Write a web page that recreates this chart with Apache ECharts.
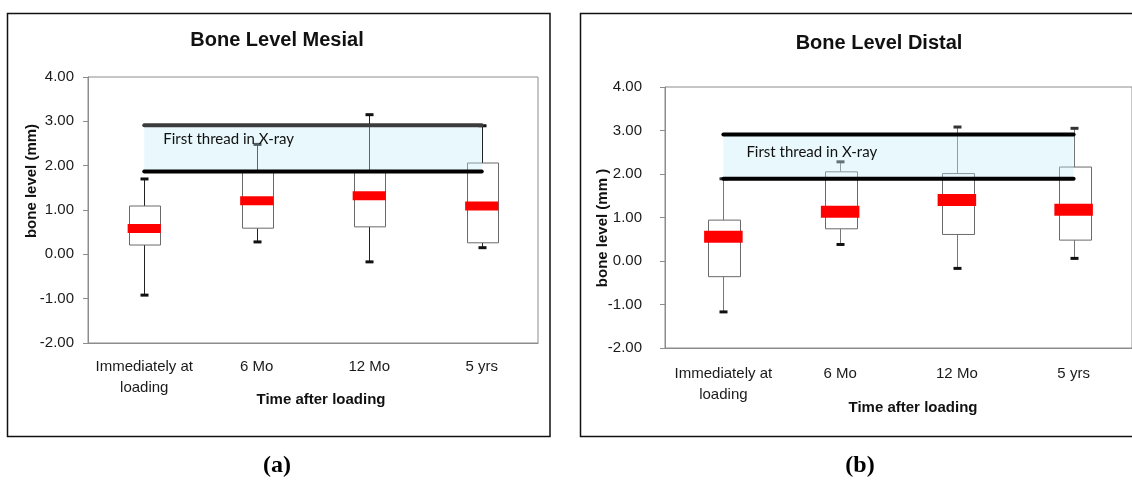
<!DOCTYPE html>
<html>
<head>
<meta charset="utf-8">
<script src="https://cdn.jsdelivr.net/npm/echarts@6/dist/echarts.min.js"></script>
<style>html,body{margin:0;padding:0;background:#fff}#c{width:1132px;height:481px}</style>
</head>
<body>
<div id="c"></div>
<script>
// ---- data ----
const categories = ['Immediately at\nloading', '6 Mo', '12 Mo', '5 yrs'];
const yTicks = [-2, -1, 0, 1, 2, 3, 4];

const mesialMin    = [-0.92, 0.28, -0.17, 0.15];
const mesialQ1     = [0.21, 0.59, 0.62, 0.26];
const mesialMedian = [0.58, 1.21, 1.32, 1.09];
const mesialQ3     = [1.09, 1.87, 1.87, 2.06];
const mesialMax    = [1.70, 2.48, 3.15, 2.90];
const mesialBand   = [1.87, 2.91];

const distalMin    = [-1.17, 0.38, -0.17, 0.06];
const distalQ1     = [-0.36, 0.74, 0.61, 0.48];
const distalMedian = [0.56, 1.13, 1.40, 1.18];
const distalQ3     = [0.94, 2.05, 2.01, 2.16];
const distalMax    = [1.89, 2.28, 3.08, 3.05];
const distalBand   = [1.89, 2.91];

const bandFrom = 0, bandTo = 3;
const bandLabel = 'First thread in X-ray';

// ---- helpers ----
function boxData(mn, q1, md, q3, mx) {
  return categories.map((c, i) => [i, mn[i], q1[i], md[i], q3[i], mx[i]]);
}
function boxRender(st) {
  return function (params, api) {
    const i = api.value(0);
    const pMin = api.coord([i, api.value(1)]);
    const pQ1 = api.coord([i, api.value(2)]);
    const pQ3 = api.coord([i, api.value(4)]);
    const pMax = api.coord([i, api.value(5)]);
    const x = Math.round(pMin[0]) + 0.5;
    const bw = api.size([1, 0])[0] * st.boxRatio;
    return { type: 'group', children: [
      { type: 'line', shape: { x1: x, y1: pMin[1], x2: x, y2: pQ1[1] }, style: { stroke: st.whisker, lineWidth: 1 } },
      { type: 'line', shape: { x1: x, y1: pQ3[1], x2: x, y2: pMax[1] }, style: { stroke: st.whisker, lineWidth: 1 } },
      { type: 'rect', shape: { x: Math.round(x - bw / 2) + 0.5, y: pQ3[1], width: Math.round(bw), height: pQ1[1] - pQ3[1] }, style: { fill: '#fff', stroke: '#6a6a6a', lineWidth: 1 } },
      { type: 'rect', shape: { x: x - 4, y: pMin[1] - 1.5, width: 8, height: 3 }, style: { fill: '#111' } },
      { type: 'rect', shape: { x: x - 4, y: pMax[1] - 1.5, width: 8, height: 3 }, style: { fill: st.capTop } }
    ] };
  };
}
function medianRender(st) {
  return function (params, api) {
    const i = api.value(0);
    const p = api.coord([i, api.value(1)]);
    const w = api.size([1, 0])[0] * st.medRatio;
    return { type: 'rect', shape: { x: p[0] - w / 2, y: p[1] - st.medH / 2, width: w, height: st.medH }, style: { fill: '#ff0000' } };
  };
}
function bandRender(st) {
  return function (params, api) {
    const a = api.coord([api.value(0), api.value(3)]);
    const b = api.coord([api.value(1), api.value(2)]);
    return { type: 'group', children: [
      { type: 'rect', shape: { x: a[0], y: a[1], width: b[0] - a[0], height: b[1] - a[1] }, style: { fill: 'rgba(190,235,245,0.35)' } },
      { type: 'line', shape: { x1: a[0], y1: a[1], x2: b[0], y2: a[1] }, style: { stroke: st.topLine, lineWidth: 4, lineCap: 'round' } },
      { type: 'line', shape: { x1: a[0], y1: b[1], x2: b[0], y2: b[1] }, style: { stroke: '#000', lineWidth: 4, lineCap: 'round' } },
      { type: 'text', x: a[0] + st.textDx, y: a[1] + st.textDy, style: { text: bandLabel, fill: '#111', font: '15px Lato', verticalAlign: 'middle' } }
    ] };
  };
}

const chartStyles = [
  { grid: { left: 88, top: 77, width: 450, height: 266 }, boxRatio: 0.275, medRatio: 0.295, medH: 9, whisker: '#222', capTop: '#111', topLine: '#3c3c3c', textDx: 19, textDy: 14, labelMargin: 14, xMargin: 13, fs: 15 },
  { grid: { left: 665, top: 87, width: 472, height: 261 }, boxRatio: 0.27, medRatio: 0.33, medH: 12, whisker: '#777', capTop: '#333', topLine: '#000', textDx: 23, textDy: 18, labelMargin: 23, xMargin: 15, fs: 15 }
];
const sets = [
  { box: boxData(mesialMin, mesialQ1, mesialMedian, mesialQ3, mesialMax), med: mesialMedian, band: mesialBand },
  { box: boxData(distalMin, distalQ1, distalMedian, distalQ3, distalMax), med: distalMedian, band: distalBand }
];

const option = {
  animation: false,
  backgroundColor: '#fff',
  grid: chartStyles.map(s => Object.assign({ show: true, borderColor: '#8c8c8c', borderWidth: 1, backgroundColor: 'transparent' }, s.grid)),
  xAxis: chartStyles.map((s, k) => ({
    type: 'category', gridIndex: k, data: categories, boundaryGap: true,
    axisTick: { show: false },
    axisLine: { onZero: false, lineStyle: { color: '#8c8c8c', width: 1 } },
    axisLabel: { fontFamily: '"Liberation Sans", Arial, sans-serif', fontSize: s.fs, color: '#1a1a1a', lineHeight: 21, margin: s.xMargin, interval: 0 },
    splitLine: { show: false }
  })),
  yAxis: chartStyles.map((s, k) => ({
    type: 'value', gridIndex: k, min: yTicks[0], max: yTicks[yTicks.length - 1], interval: 1,
    axisLine: { show: true, onZero: false, lineStyle: { color: '#8c8c8c', width: 1 } },
    axisTick: { show: true, length: 5, lineStyle: { color: '#8c8c8c' } },
    axisLabel: { fontFamily: '"Liberation Sans", Arial, sans-serif', fontSize: 15, color: '#1a1a1a', margin: s.labelMargin, formatter: v => v.toFixed(2) },
    splitLine: { show: false }
  })),
  series: [].concat(...chartStyles.map((s, k) => [
    { type: 'custom', xAxisIndex: k, yAxisIndex: k, z: 2, data: sets[k].box, encode: { x: 0, y: [1, 2, 3, 4, 5] }, renderItem: boxRender(s) },
    { type: 'custom', xAxisIndex: k, yAxisIndex: k, z: 3, data: [[bandFrom, bandTo, sets[k].band[0], sets[k].band[1]]], encode: { x: [0, 1], y: [2, 3] }, renderItem: bandRender(s) },
    { type: 'custom', xAxisIndex: k, yAxisIndex: k, z: 4, data: sets[k].med.map((m, i) => [i, m]), encode: { x: 0, y: 1 }, renderItem: medianRender(s) }
  ])),
  graphic: [
    { type: 'rect', shape: { x: 7.5, y: 13.5, width: 542.5, height: 423 }, style: { fill: 'none', stroke: '#111', lineWidth: 1.5 }, z: 0 },
    { type: 'rect', shape: { x: 580.5, y: 13.5, width: 600, height: 423 }, style: { fill: 'none', stroke: '#111', lineWidth: 1.5 }, z: 0 },
    { type: 'text', x: 277, y: 40, style: { text: 'Bone Level Mesial', font: 'bold 20px "Liberation Sans"', fill: '#111', align: 'center', verticalAlign: 'middle' } },
    { type: 'text', x: 879, y: 43, style: { text: 'Bone Level Distal', font: 'bold 20px "Liberation Sans"', fill: '#111', align: 'center', verticalAlign: 'middle' } },
    { type: 'text', x: 32, y: 181, rotation: Math.PI / 2, style: { text: 'bone level (mm)', font: 'bold 15px "Liberation Sans"', fill: '#111', align: 'center', verticalAlign: 'middle' } },
    { type: 'text', x: 603, y: 228, rotation: Math.PI / 2, style: { text: 'bone level (mm )', font: 'bold 15px "Liberation Sans"', fill: '#111', align: 'center', verticalAlign: 'middle' } },
    { type: 'text', x: 321, y: 400, style: { text: 'Time after loading', font: 'bold 15px "Liberation Sans"', fill: '#111', align: 'center', verticalAlign: 'middle' } },
    { type: 'text', x: 913, y: 408, style: { text: 'Time after loading', font: 'bold 15px "Liberation Sans"', fill: '#111', align: 'center', verticalAlign: 'middle' } },
    { type: 'text', x: 277, y: 466, style: { text: '(a)', font: 'bold 24px "Liberation Serif"', fill: '#000', align: 'center', verticalAlign: 'middle' } },
    { type: 'text', x: 860, y: 466, style: { text: '(b)', font: 'bold 24px "Liberation Serif"', fill: '#000', align: 'center', verticalAlign: 'middle' } }
  ]
};
const chart = echarts.init(document.getElementById('c'), null, { renderer: 'canvas' });
chart.setOption(option);
</script>
</body>
</html>
